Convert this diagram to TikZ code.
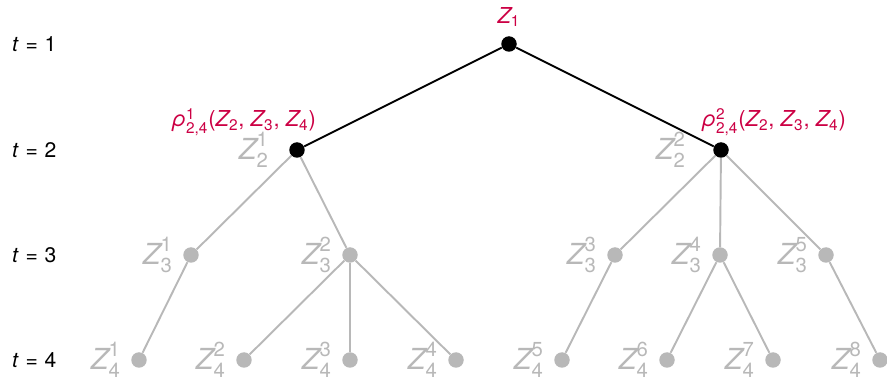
\documentclass[tikz,border=0pt]{standalone}
\usepackage{amsmath}
\usepackage{fontspec}
\setmainfont{TeX Gyre Heros}
\usetikzlibrary{positioning}
\definecolor{rhored}{RGB}{204,0,68}
\definecolor{treegray}{RGB}{184,184,184}
\newcommand{\Zs}[1]{\text{\itshape Z}_{\text{#1}}}
\newcommand{\Zn}[2]{$\text{\itshape Z}^{\text{#2}}_{\text{#1}}$}
\newcommand{\rholab}[1]{$\text{\itshape ρ}^{\text{#1}}_{\text{2,4}}\text{(}\Zs{2}\text{, }\Zs{3}\text{, }\Zs{4}\text{)}$}
\newcommand{\tval}[1]{\textit{t}\hspace{0.32em}=\hspace{0.32em}#1}

\begin{document}
\begin{tikzpicture}[x=0.02cm,y=-0.02cm,
        dot/.style={circle,fill=black,inner sep=0pt,minimum size=0.31cm},
        gdot/.style={dot,fill=treegray},
        glab/.style={text=treegray,font=\fontsize{16.5}{18}\selectfont,label distance=0.08cm},
        glabfar/.style={glab,label distance=0.28cm},
        rlab/.style={text=rhored,font=\fontsize{12.5}{14}\selectfont},
        tlab/.style={font=\fontsize{12}{14}\selectfont,anchor=west},
        gedge/.style={treegray,line width=1.1pt},
        bedge/.style={black,line width=1.1pt}]
      \useasboundingbox (0,0) rectangle (887,378);
      % time labels
      \node[tlab] (t1) at (6,44)  {\tval{1}};
      \node[tlab] (t2) at (6,150) {\tval{2}};
      \node[tlab] (t3) at (6,255) {\tval{3}};
      \node[tlab] (t4) at (6,360) {\tval{4}};
      % root and second stage
      \node[dot] (z1) at (509,44) {};
      \node[rlab] (z1lab) at (509,17) {$\Zs{1}$};
      \node[dot,label={[glabfar]left:\Zn{2}{1}}] (z21) at (297,150) {};
      \node[dot,label={[glabfar,label distance=0.42cm]left:\Zn{2}{2}}] (z22) at (721,150) {};
      \node[rlab] (rho1) at (244,122) {\rholab{1}};
      \node[rlab] (rho2) at (774,122) {\rholab{2}};
      % third stage
      \node[gdot,label={[glab]left:\Zn{3}{1}}] (z31) at (191,255) {};
      \node[gdot,label={[glab]left:\Zn{3}{2}}] (z32) at (350,255) {};
      \node[gdot,label={[glab]left:\Zn{3}{3}}] (z33) at (615,255) {};
      \node[gdot,label={[glab]left:\Zn{3}{4}}] (z34) at (720,255) {};
      \node[gdot,label={[glab]left:\Zn{3}{5}}] (z35) at (826,255) {};
      % fourth stage
      \node[gdot,label={[glab]left:\Zn{4}{1}}] (z41) at (139,360) {};
      \node[gdot,label={[glab]left:\Zn{4}{2}}] (z42) at (244,360) {};
      \node[gdot,label={[glab]left:\Zn{4}{3}}] (z43) at (350,360) {};
      \node[gdot,label={[glab]left:\Zn{4}{4}}] (z44) at (456,360) {};
      \node[gdot,label={[glab]left:\Zn{4}{5}}] (z45) at (562,360) {};
      \node[gdot,label={[glab]left:\Zn{4}{6}}] (z46) at (667,360) {};
      \node[gdot,label={[glab]left:\Zn{4}{7}}] (z47) at (773,360) {};
      \node[gdot,label={[glab]left:\Zn{4}{8}}] (z48) at (880,360) {};
      % edges
      \draw[bedge] (z1)--(z21); \draw[bedge] (z1)--(z22);
      \draw[gedge] (z21)--(z31); \draw[gedge] (z21)--(z32);
      \draw[gedge] (z22)--(z33); \draw[gedge] (z22)--(z34); \draw[gedge] (z22)--(z35);
      \draw[gedge] (z31)--(z41);
      \draw[gedge] (z32)--(z42); \draw[gedge] (z32)--(z43); \draw[gedge] (z32)--(z44);
      \draw[gedge] (z33)--(z45);
      \draw[gedge] (z34)--(z46); \draw[gedge] (z34)--(z47);
      \draw[gedge] (z35)--(z48);
    \end{tikzpicture}
\end{document}
